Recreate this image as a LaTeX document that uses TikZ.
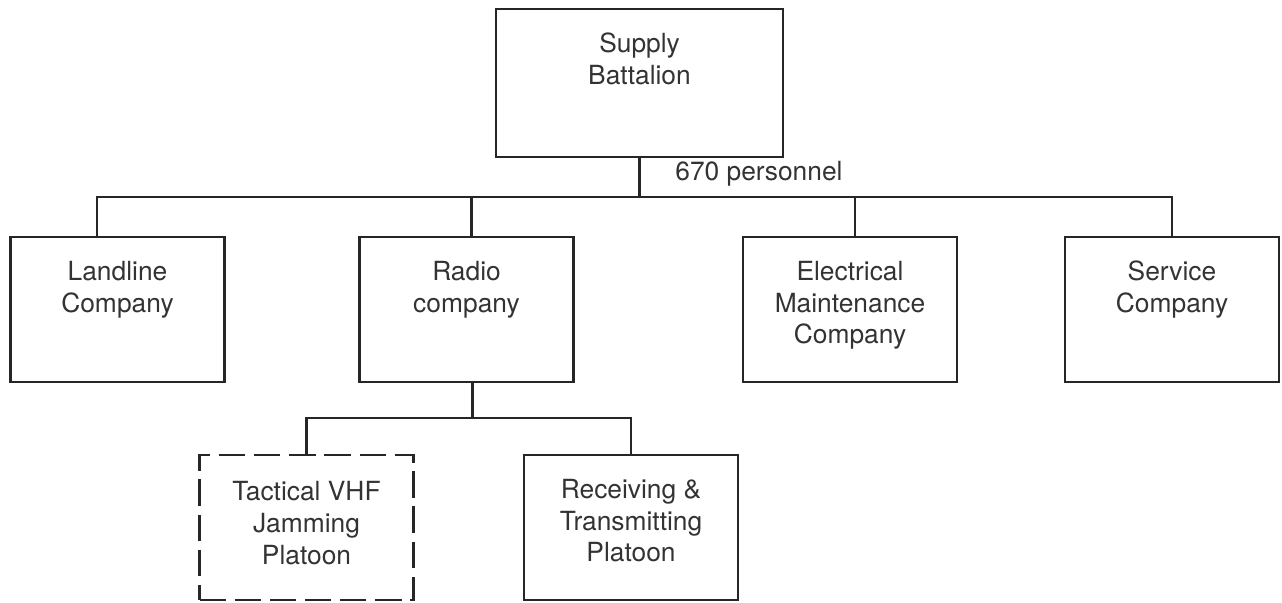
\documentclass[tikz,border=0pt]{standalone}
\usepackage{fontspec}
\setmainfont{TeX Gyre Heros}
\usetikzlibrary{positioning}

\begin{document}
\begin{tikzpicture}[
  unit/.style={draw=black!85, line width=1.3pt, minimum width=4.28cm, minimum height=2.9cm, inner sep=0pt},
  plan/.style={unit, dash pattern=on 15pt off 5pt},
  boxtxt/.style={align=center, inner sep=0pt, text=black!80, font=\fontsize{15}{18}\selectfont},
  link/.style={draw=black!85, line width=1.3pt}
]
\useasboundingbox (0,0) rectangle (25.64,12.04);

% battalion
\node[unit, minimum width=5.74cm, minimum height=2.96cm] (bn) at (12.79,10.38) {};
\node[boxtxt, below=0.5cm of bn.north] (bntxt) {Supply\\Battalion};
\node[boxtxt, anchor=west] (pers) at (13.5,8.56) {670 personnel};

% companies
\node[unit] (land) at (2.35,5.85) {};
\node[unit] (radio) at (9.33,5.85) {};
\node[unit] (elec) at (17.0,5.85) {};
\node[unit] (serv) at (23.44,5.85) {};
\node[boxtxt, below=0.5cm of land.north] (landtxt) {Landline\\Company};
\node[boxtxt, below=0.5cm of radio.north] (radiotxt) {Radio\\company};
\node[boxtxt, below=0.5cm of elec.north] (electxt) {Electrical\\Maintenance\\Company};
\node[boxtxt, below=0.5cm of serv.north] (servtxt) {Service\\Company};

% platoons
\node[plan] (vhf) at (6.13,1.49) {};
\node[unit] (rt) at (12.62,1.49) {};
\node[boxtxt, below=0.55cm of vhf.north] (vhftxt) {Tactical VHF\\Jamming\\Platoon};
\node[boxtxt, below=0.5cm of rt.north] (rttxt) {Receiving \&\\Transmitting\\Platoon};

% lines
\coordinate (bus) at (0,8.1);
\coordinate (sub) at (0,3.68);
\draw[link] (bn.south) -- (bn.south |- bus);
\draw[link] ([xshift=-0.41cm]land.north) |- (serv.north |- bus) -- (serv.north);
\foreach \c in {radio,elec}
{
	\draw[link] ([xshift=0.1cm]\c.north) -- ([xshift=0.1cm]\c.north |- bus);
}
\draw[link] ([xshift=0.12cm]radio.south) -- ([xshift=0.12cm]radio.south |- sub);
\draw[link] (vhf.north) |- (rt.north |- sub) -- (rt.north);
\end{tikzpicture}
\end{document}
